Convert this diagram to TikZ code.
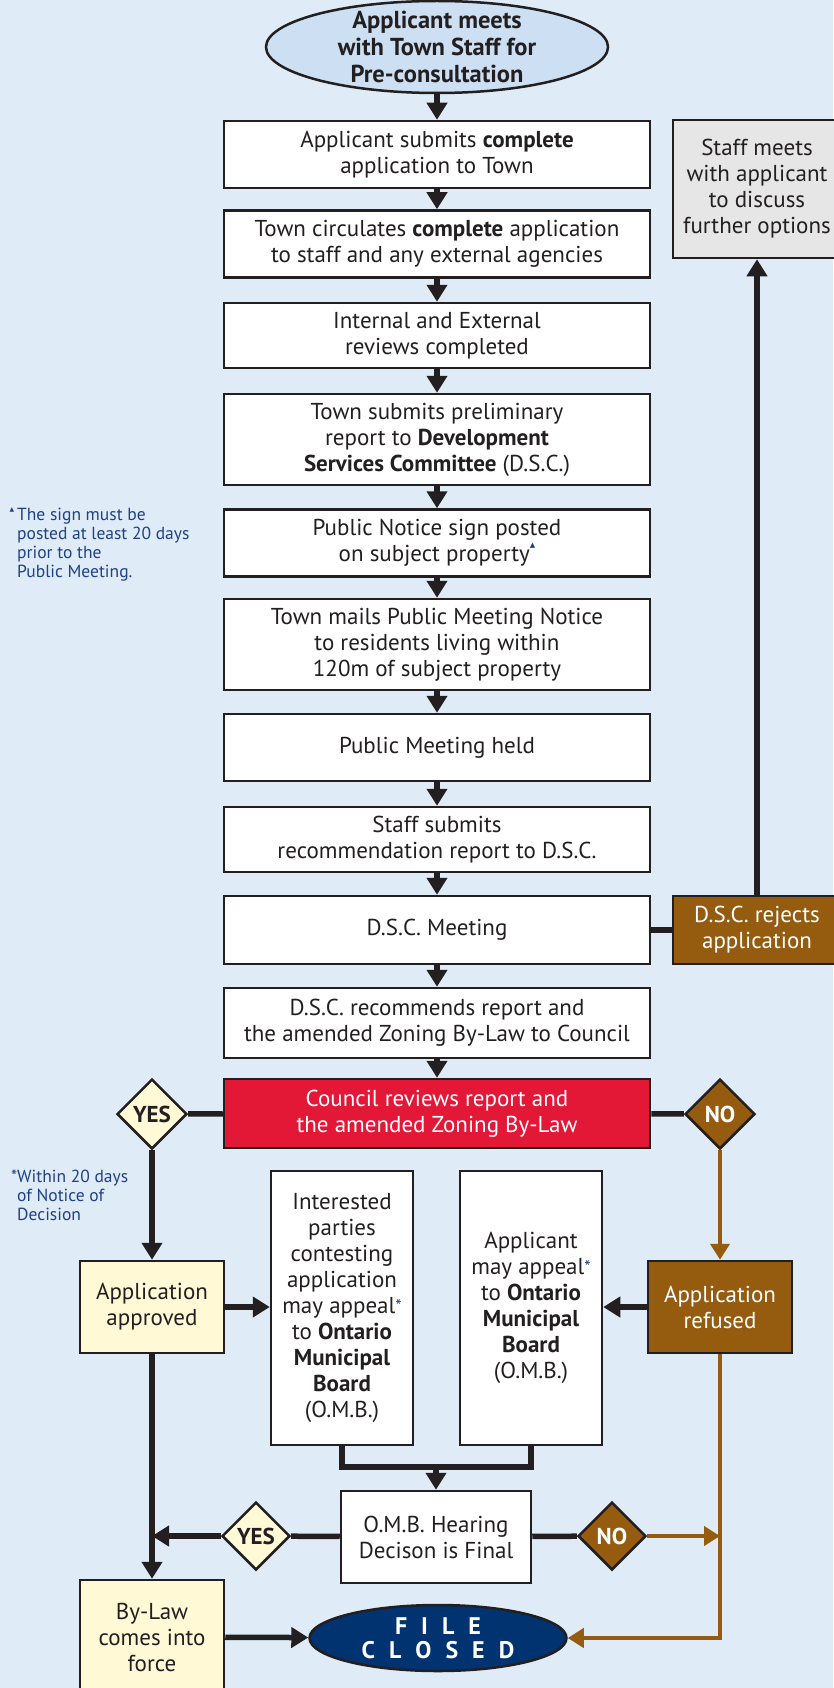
\documentclass[tikz,border=0pt]{standalone}
\usepackage{fontspec}
\setmainfont{PT Sans}
\newfontfamily\symfont{DejaVu Sans}
\usetikzlibrary{arrows.meta,shapes.geometric}

\definecolor{bgblue}{RGB}{223,235,247}
\definecolor{ovalblue}{RGB}{205,224,243}
\definecolor{inkdark}{RGB}{35,31,32}
\definecolor{councilred}{RGB}{227,24,55}
\definecolor{rejbrown}{RGB}{149,91,15}
\definecolor{okyellow}{RGB}{255,249,214}
\definecolor{closednavy}{RGB}{0,51,112}
\definecolor{notecol}{RGB}{30,65,135}
\definecolor{optgray}{RGB}{230,230,230}

\newcommand\boxfont{\fontsize{23}{26}\selectfont}
\newcommand\notefont{\fontsize{17.5}{19}\selectfont}
\newcommand\signmark{\raisebox{0.6em}{\color{notecol}\symfont\fontsize{7}{7}\selectfont ▲}}
\newcommand\appealmark{\raisebox{1pt}{\color{notecol}\fontsize{18}{18}\selectfont *}}
\newcommand\lgap{\hspace{14pt}}

\begin{document}
\begin{tikzpicture}[x=1pt,y=-1pt,
  box/.style={draw=inkdark,line width=2.5pt,fill=white,text=inkdark,align=center,font=\boxfont,minimum width=426pt,minimum height=67pt,inner sep=1pt},
  tallbox/.style={box,minimum height=91pt},
  sidebox/.style={box,minimum width=144pt,minimum height=92pt},
  appealbox/.style={box,minimum width=142pt,minimum height=274pt},
  oval/.style={ellipse,draw=inkdark,line width=2.5pt,fill=ovalblue,text=inkdark,align=center,font=\bfseries\fontsize{24.5}{27}\selectfont,minimum width=342pt,minimum height=92pt,inner xsep=0pt,inner ysep=-13pt},
  closedoval/.style={ellipse,draw=inkdark,line width=2.5pt,fill=closednavy,text=white,align=center,font=\bfseries\fontsize{24}{24}\selectfont,minimum width=257pt,minimum height=66pt,inner sep=0pt},
  dmd/.style={diamond,aspect=1,draw=inkdark,line width=2.5pt,minimum size=70pt,inner sep=0pt,font=\bfseries\fontsize{23}{23}\selectfont},
  yes/.style={dmd,fill=okyellow,text=inkdark},
  no/.style={dmd,fill=rejbrown,text=white},
  note/.style={anchor=north west,align=left,inner sep=0pt,text=notecol,font=\notefont},
  link/.style={draw=inkdark,line width=5.5pt},
  arr/.style={link,-{Triangle[length=17pt,width=20pt]}},
  blink/.style={draw=rejbrown,line width=4.5pt},
  barr/.style={blink,-{Triangle[length=16pt,width=19pt]}}]
\useasboundingbox (0,0) rectangle (833,1688);
\fill[bgblue] (0,0) rectangle (833,1688);

\node[oval] (meet) at (437,47) {Applicant meets\\with Town Staff for\\Pre-consultation};
\node[box] (submit) at (437,154.5) {Applicant submits \textbf{complete}\\application to Town};
\node[box] (circ) at (437,244) {Town circulates \textbf{complete} application\\to staff and any external agencies};
\node[box,minimum height=65pt] (review) at (437,335.5) {Internal and External\\reviews completed};
\node[tallbox] (prelim) at (437,439.5) {Town submits preliminary\\report to \textbf{Development}\\\textbf{Services Committee} (D.S.C.)};
\node[box] (sign) at (437,543) {Public Notice sign posted\\on subject property\signmark};
\node[tallbox] (mail) at (437,644.5) {Town mails Public Meeting Notice\\to residents living within\\120m of subject property};
\node[box] (pubmtg) at (437,747.5) {Public Meeting held};
\node[box,minimum height=65pt] (recrep) at (437,839.5) {Staff submits\\recommendation report to D.S.C.};
\node[box,minimum height=68pt] (dscmtg) at (437,930) {D.S.C. Meeting};
\node[box,minimum height=70pt] (dscrec) at (437,1023) {D.S.C. recommends report and\\the amended Zoning By-Law to Council};
\node[box,fill=councilred,text=white,minimum height=69pt] (council) at (437,1113.5) {Council reviews report and\\the amended Zoning By-Law};

\node[box,fill=optgray,minimum width=168pt,minimum height=138pt] (options) at (757,189) {Staff meets\\with applicant\\to discuss\\further options};
\node[box,fill=rejbrown,text=white,minimum width=168pt,minimum height=68pt] (reject) at (757,930) {D.S.C. rejects\\application};

\node[note] (signnote) at (17,507) {\llap{\raisebox{0.55em}{\symfont\fontsize{6}{6}\selectfont ▲}\,}The sign must be\\posted at least 20 days\\prior to the\\Public Meeting.};
\node[note] (appealnote) at (17,1170) {\llap{*}Within 20 days\\of Notice of\\Decision};

\node[yes] (yesA) at (152,1114) {YES};
\node[no] (noA) at (720,1114) {NO};
\node[sidebox,fill=okyellow] (approved) at (152,1307) {Application\\approved};
\node[sidebox,fill=rejbrown,text=white] (refused) at (720,1307) {Application\\refused};
\node[appealbox] (parties) at (342,1308) {Interested\\parties\\contesting\\application\\may appeal\appealmark\\to \textbf{Ontario}\\\textbf{Municipal}\\\textbf{Board}\\(O.M.B.)};
\node[appealbox] (appeal) at (531,1308) {Applicant\\may appeal\appealmark\\to \textbf{Ontario}\\\textbf{Municipal}\\\textbf{Board}\\(O.M.B.)};
\node[box,minimum width=190pt,minimum height=92pt] (omb) at (436,1537) {O.M.B. Hearing\\Decison is Final};
\node[yes,minimum size=68pt] (yesB) at (256,1536) {YES};
\node[no,minimum size=68pt] (noB) at (612,1536) {NO};
\node[sidebox,fill=okyellow,minimum height=114pt] (bylaw) at (152,1637) {By-Law\\comes into\\force};
\node[closedoval] (closed) at (438,1638) {F\lgap I\lgap L\lgap E\\C\lgap L\lgap O\lgap S\lgap E\lgap D};

\coordinate (join) at (436,1467);
\coordinate (jl) at (152,1536);
\coordinate (jr) at (720,1536);

\foreach \a/\b in {meet/submit,submit/circ,circ/review,review/prelim,prelim/sign,sign/mail,mail/pubmtg,pubmtg/recrep,recrep/dscmtg,dscmtg/dscrec,dscrec/council}
  \draw[arr] (\a) -- (\b);
\draw[link] (dscmtg) -- (reject);
\draw[arr] (reject) -- (options);
\draw[link] (council) -- (yesA);
\draw[arr] (yesA) -- (approved);
\draw[link] (council) -- (noA);
\draw[barr] (noA) -- (refused);
\draw[arr] (approved.east) -- (approved.east -| parties.west);
\draw[arr] (refused.west) -- (refused.west -| appeal.east);
\draw[link] (parties.south) |- (join) -| (appeal.south);
\draw[arr] (join) -- (omb);
\draw[link] (omb) -- (yesB);
\draw[arr] (yesB) -- (jl);
\draw[link] (omb) -- (noB);
\draw[barr] (noB) -- (jr);
\draw[arr] (approved) -- (bylaw);
\draw[barr] (refused.south) |- (closed.east);
\draw[arr] (bylaw) -- (closed);
\end{tikzpicture}
\end{document}
